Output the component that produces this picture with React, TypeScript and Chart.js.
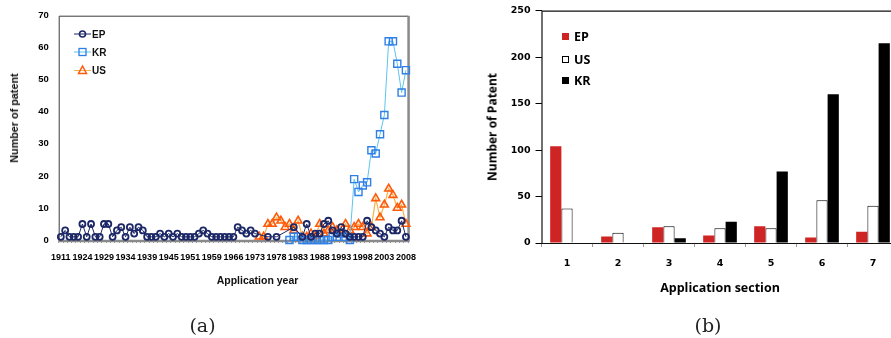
import React, { useEffect, useRef } from "react";
import { Chart, registerables } from "chart.js";

Chart.register(...registerables);

// ---------- Panel (a): patents by application year ----------
const yearLabels = [
  "1911", "1915", "1918", "1920", "1922", "1924", "1925", "1926", "1927", "1928",
  "1929", "1930", "1931", "1932", "1933", "1934", "1935", "1936", "1937", "1938",
  "1939", "1940", "1941", "1943", "1944", "1945", "1946", "1947", "1949", "1950",
  "1951", "1952", "1954", "1956", "1957", "1959", "1960", "1962", "1963", "1965",
  "1966", "1967", "1968", "1970", "1971", "1973", "1974", "1975", "1976", "1977",
  "1978", "1979", "1980", "1981", "1982", "1983", "1984", "1985", "1986", "1987",
  "1988", "1989", "1990", "1991", "1992", "1993", "1994", "1995", "1996", "1997",
  "1998", "1999", "2000", "2001", "2002", "2003", "2004", "2005", "2006", "2007",
  "2008",
];

const epByYear = [
  1, 3, 1, 1, 1, 5, 1, 5, 1, 1,
  5, 5, 1, 3, 4, 1, 4, 2, 4, 3,
  1, 1, 1, 2, 1, 2, 1, 2, 1, 1,
  1, 1, 2, 3, 2, 1, 1, 1, 1, 1,
  1, 4, 3, 2, 3, 2, null, null, 1, null,
  1, null, null, null, 4, null, 1, 5, 1, 2,
  2, 5, 6, 3, 2, 4, 2, 1, 1, 1,
  1, 6, 4, 3, 2, 1, 4, 3, 3, 6,
  1,
];

const krByYear = [
  null, null, null, null, null, null, null, null, null, null,
  null, null, null, null, null, null, null, null, null, null,
  null, null, null, null, null, null, null, null, null, null,
  null, null, null, null, null, null, null, null, null, null,
  null, null, null, null, null, null, null, null, null, null,
  null, null, null, 0, 1, 1, 0, 0, 0, 0,
  0, 0, 0, 1, 1, 2, 1, 0, 19, 15,
  17, 18, 28, 27, 33, 39, 62, 62, 55, 46,
  53,
];

const usByYear = [
  null, null, null, null, null, null, null, null, null, null,
  null, null, null, null, null, null, null, null, null, null,
  null, null, null, null, null, null, null, null, null, null,
  null, null, null, null, null, null, null, null, null, null,
  null, null, null, null, null, null, 1, 1, 5, 5,
  7, 6, 4, 5, 3, 6, 1, 1, 2, 1,
  5, 2, 3, 4, 3, 2, 5, 3, 4, 5,
  4, 2, 4, 13, 7, 11, 16, 14, 10, 11,
  5,
];

// ---------- Panel (b): patents by application section ----------
const sections = ["1", "2", "3", "4", "5", "6", "7"];
const epBySection = [104, 7, 17, 8, 18, 6, 12];
const usBySection = [37, 11, 18, 16, 16, 46, 40];
const krBySection = [0, 0, 5, 23, 77, 160, 215];

const SANS = '"Liberation Sans", Arial, sans-serif';
const WIDE = '"DejaVu Sans", Verdana, sans-serif';
const TITLE = '"Open Sans", "Noto Sans", sans-serif';
const SERIF = '"DejaVu Serif", "Liberation Serif", serif';

const EP_NAVY = "#1c2766";
const KR_MARK = "#2f7fe6";
const KR_LINE = "#5cc4f0";
const US_MARK = "#ff5a0a";
const US_LINE = "#f7b24c";

const frameA = {
  id: "frameA",
  beforeDatasetsDraw(chart: any) {
    const { ctx, chartArea: a } = chart;
    ctx.save();
    ctx.strokeStyle = "#3a3a3a";
    ctx.lineWidth = 1;
    ctx.beginPath();
    ctx.moveTo(a.left + 0.5, a.bottom);
    ctx.lineTo(a.left + 0.5, a.top + 0.5);
    ctx.lineTo(a.right, a.top + 0.5);
    ctx.stroke();
    ctx.strokeStyle = "#8a8a8a";
    ctx.lineWidth = 2.5;
    ctx.beginPath();
    ctx.moveTo(a.right + 0.5, a.top);
    ctx.lineTo(a.right + 0.5, a.bottom + 1);
    ctx.moveTo(a.left, a.bottom + 1);
    ctx.lineTo(a.right + 1.5, a.bottom + 1);
    ctx.stroke();
    ctx.restore();
  },
};

const frameB = {
  id: "frameB",
  afterDatasetsDraw(chart: any) {
    const { ctx, chartArea: a } = chart;
    ctx.save();
    ctx.strokeStyle = "#111";
    ctx.lineWidth = 1.2;
    ctx.beginPath();
    ctx.moveTo(a.right, a.top + 0.5);
    ctx.lineTo(a.left + 0.5, a.top + 0.5);
    ctx.lineTo(a.left + 0.5, a.bottom + 0.5);
    ctx.lineTo(a.right, a.bottom + 0.5);
    ctx.stroke();
    ctx.restore();
  },
};

export default function App() {
  const refA = useRef<HTMLCanvasElement>(null);
  const refB = useRef<HTMLCanvasElement>(null);

  useEffect(() => {
    const chartA = new Chart(refA.current!, {
      type: "line",
      data: {
        labels: yearLabels,
        datasets: [
          {
            label: "EP",
            data: epByYear,
            borderColor: EP_NAVY,
            borderWidth: 1,
            pointStyle: "circle",
            pointRadius: 3,
            pointBorderWidth: 1.8,
            pointBorderColor: EP_NAVY,
            pointBackgroundColor: "rgba(0,0,0,0)",
            spanGaps: true,
            tension: 0,
            clip: false,
          },
          {
            label: "KR",
            data: krByYear,
            borderColor: KR_LINE,
            borderWidth: 1,
            pointStyle: "rect",
            pointRadius: 5,
            pointBorderWidth: 1.4,
            pointBorderColor: KR_MARK,
            pointBackgroundColor: "rgba(0,0,0,0)",
            spanGaps: true,
            tension: 0,
            clip: false,
          },
          {
            label: "US",
            data: usByYear,
            borderColor: US_LINE,
            borderWidth: 1.2,
            pointStyle: "triangle",
            pointRadius: 4.5,
            pointBorderWidth: 1.6,
            pointBorderColor: US_MARK,
            pointBackgroundColor: "rgba(0,0,0,0)",
            spanGaps: true,
            tension: 0,
            clip: false,
          },
        ] as any,
      },
      options: {
        responsive: false,
        animation: false,
        devicePixelRatio: 1,
        layout: { padding: { left: 0, top: 12, right: 12, bottom: 0 } },
        plugins: { legend: { display: false }, tooltip: { enabled: false } },
        scales: {
          x: {
            type: "category",
            offset: true,
            grid: {
              display: true,
              drawOnChartArea: false,
              drawTicks: true,
              tickLength: 3,
              color: "#a0a0a0",
              offset: true,
            },
            border: { display: false },
            ticks: {
              autoSkip: false,
              maxRotation: 0,
              minRotation: 0,
              padding: 9,
              color: "#000",
              font: { family: SANS, size: 9, weight: "bold" },
              callback: (_v: any, i: number) => (i % 5 === 0 ? yearLabels[i] : ""),
            },
            afterFit: (s: any) => {
              s.height = 60;
            },
          },
          y: {
            min: 0,
            max: 70,
            grid: { display: false, drawTicks: false },
            border: { display: false },
            ticks: {
              stepSize: 10,
              padding: 10,
              color: "#000",
              font: { family: SANS, size: 9.5, weight: "bold" },
            },
            afterFit: (s: any) => {
              s.width = 58.7;
            },
          },
        },
      } as any,
      plugins: [frameA],
    });

    const chartB = new Chart(refB.current!, {
      type: "bar",
      data: {
        labels: sections,
        datasets: [
          {
            label: "EP",
            data: epBySection,
            backgroundColor: "#cf2424",
            borderWidth: 0,
          },
          {
            label: "US",
            data: usBySection,
            backgroundColor: "#ffffff",
            borderColor: "#000000",
            borderWidth: 1,
          },
          {
            label: "KR",
            data: krBySection,
            backgroundColor: "#000000",
            borderWidth: 0,
          },
        ],
      },
      options: {
        responsive: false,
        animation: false,
        devicePixelRatio: 1,
        layout: { padding: { left: 0, top: 8.5, right: 11.5, bottom: 0 } },
        datasets: { bar: { categoryPercentage: 0.66, barPercentage: 1 } },
        plugins: { legend: { display: false }, tooltip: { enabled: false } },
        scales: {
          x: {
            grid: {
              display: true,
              drawOnChartArea: false,
              drawTicks: true,
              tickLength: 4,
              color: "#9a9a9a",
              offset: true,
            },
            border: { display: false },
            ticks: {
              padding: 11,
              color: "#000",
              font: { family: WIDE, size: 9.5, weight: "bold" },
            },
            afterFit: (s: any) => {
              s.height = 57;
            },
          },
          y: {
            min: 0,
            max: 250,
            grid: {
              display: true,
              drawOnChartArea: false,
              drawTicks: true,
              tickLength: 6,
              color: "#000",
            },
            border: { display: false },
            ticks: {
              stepSize: 50,
              padding: 5,
              color: "#000",
              font: { family: WIDE, size: 9.5, weight: "bold" },
            },
            afterFit: (s: any) => {
              s.width = 71.5;
            },
          },
        },
      } as any,
      plugins: [frameB],
    });

    return () => {
      chartA.destroy();
      chartB.destroy();
    };
  }, []);

  const abs = (extra: React.CSSProperties): React.CSSProperties => ({
    position: "absolute",
    whiteSpace: "nowrap",
    lineHeight: 1,
    ...extra,
  });

  const legendA = [
    { label: "EP", y: 34.3, kind: "circle" },
    { label: "KR", y: 52.3, kind: "rect" },
    { label: "US", y: 70, kind: "tri" },
  ];
  const legendB = [
    { label: "EP", y: 36.7, fill: "#cf2424", stroke: "#cf2424" },
    { label: "US", y: 59, fill: "#ffffff", stroke: "#000" },
    { label: "KR", y: 80.5, fill: "#000", stroke: "#000" },
  ];

  return (
    <div
      style={{
        position: "fixed",
        left: 0,
        top: 0,
        width: 891,
        height: 338,
        overflow: "hidden",
        background: "#fff",
      }}
    >
      <canvas
        ref={refA}
        width={425}
        height={300}
        style={{ position: "absolute", left: 0, top: 0, width: 425, height: 300 }}
      />
      <canvas
        ref={refB}
        width={440}
        height={300}
        style={{ position: "absolute", left: 470, top: 0, width: 440, height: 300 }}
      />

      {/* Panel (a) legend */}
      {legendA.map((it) => (
        <div key={it.label} style={abs({ left: 74, top: it.y - 6, height: 12, display: "flex", alignItems: "center" })}>
          <svg width={17} height={12} style={{ display: "block" }}>
            {it.kind === "circle" && (
              <>
                <line x1={0} y1={6} x2={17} y2={6} stroke={EP_NAVY} strokeWidth={1} />
                <circle cx={8.5} cy={6} r={3} fill="none" stroke={EP_NAVY} strokeWidth={1.6} />
              </>
            )}
            {it.kind === "rect" && (
              <>
                <line x1={0} y1={6} x2={17} y2={6} stroke={KR_LINE} strokeWidth={1} />
                <rect x={5} y={2.5} width={7} height={7} fill="none" stroke={KR_MARK} strokeWidth={1.3} />
              </>
            )}
            {it.kind === "tri" && (
              <>
                <line x1={0} y1={6.5} x2={17} y2={6.5} stroke={US_LINE} strokeWidth={1} />
                <polygon points="8.5,2 12.5,9.5 4.5,9.5" fill="none" stroke={US_MARK} strokeWidth={1.5} />
              </>
            )}
          </svg>
          <span style={{ marginLeft: 1, font: `bold 10px ${SANS}`, color: "#111" }}>{it.label}</span>
        </div>
      ))}

      {/* Panel (a) axis titles */}
      <div style={abs({ left: 257.5, top: 280, transform: "translate(-50%,-50%)", font: `bold 10.5px ${SANS}`, color: "#111" })}>
        Application year
      </div>
      <div style={abs({ left: 14, top: 118, transform: "translate(-50%,-50%) rotate(-90deg)", font: `bold 10.8px ${SANS}`, color: "#111" })}>
        Number of patent
      </div>
      <div style={abs({ left: 202.5, top: 325, transform: "translate(-50%,-50%)", font: `19px ${SERIF}`, color: "#222" })}>
        (a)
      </div>

      {/* Panel (b) legend */}
      {legendB.map((it) => (
        <div key={it.label} style={abs({ left: 562, top: it.y - 7, height: 14, display: "flex", alignItems: "center" })}>
          <div
            style={{
              width: 7,
              height: 7,
              boxSizing: "border-box",
              background: it.fill,
              border: `1px solid ${it.stroke}`,
            }}
          />
          <span style={{ marginLeft: 5, font: `bold 12.5px ${TITLE}`, color: "#000" }}>{it.label}</span>
        </div>
      ))}

      {/* Panel (b) axis titles */}
      <div style={abs({ left: 720, top: 286.7, transform: "translate(-50%,-50%)", font: `bold 12.5px ${TITLE}`, color: "#000" })}>
        Application section
      </div>
      <div style={abs({ left: 492, top: 127, transform: "translate(-50%,-50%) rotate(-90deg)", font: `bold 12px ${TITLE}`, color: "#000" })}>
        Number of Patent
      </div>
      <div style={abs({ left: 708, top: 325, transform: "translate(-50%,-50%)", font: `19px ${SERIF}`, color: "#222" })}>
        (b)
      </div>
    </div>
  );
}
